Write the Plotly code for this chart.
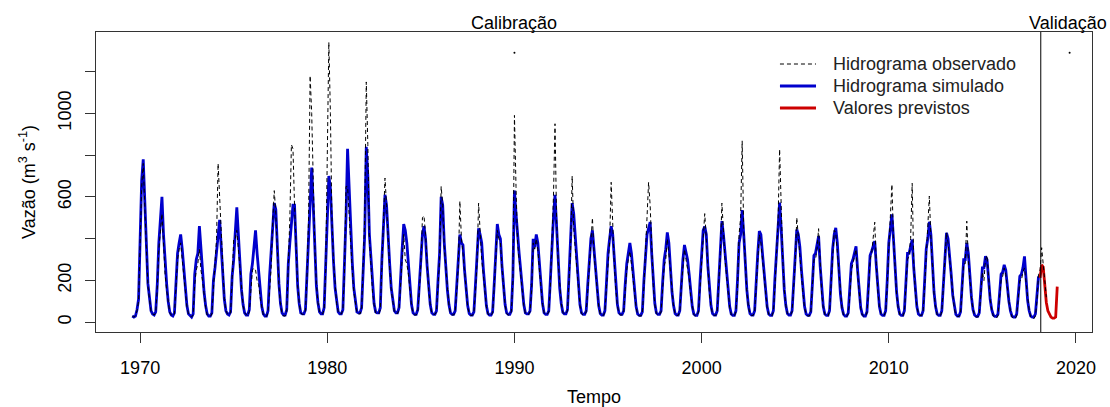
import plotly.graph_objects as go

# ---------------- dados (vazão mensal, m3/s) ----------------
ano_inicio, mes_inicio = 1969, 7

vazao_simulada = [
    30, 25, 30, 60, 110, 350,                                   # 1969 (jul-dez)
    680, 780, 540, 380, 185, 100, 55, 40, 35, 50, 180, 380,     # 1970
    480, 600, 420, 280, 185, 100, 50, 35, 30, 45, 200, 330,     # 1971
    380, 420, 350, 250, 145, 80, 40, 30, 25, 40, 230, 300,      # 1972
    330, 460, 350, 230, 145, 80, 40, 30, 30, 45, 200, 260,      # 1973
    350, 420, 490, 360, 215, 110, 55, 40, 35, 50, 220, 300,     # 1974
    430, 550, 420, 280, 155, 85, 45, 35, 35, 60, 230, 280,      # 1975
    350, 440, 330, 230, 135, 75, 40, 30, 30, 55, 220, 330,      # 1976
    460, 570, 540, 350, 185, 90, 45, 35, 35, 60, 280, 380,      # 1977
    470, 560, 560, 330, 175, 90, 45, 40, 40, 60, 250, 420,      # 1978
    560, 740, 560, 330, 175, 95, 50, 40, 40, 70, 260, 420,      # 1979
    700, 640, 450, 290, 165, 90, 50, 40, 40, 60, 250, 500,      # 1980
    830, 620, 420, 290, 165, 90, 50, 45, 45, 70, 280, 420,      # 1981
    840, 700, 420, 290, 165, 90, 50, 45, 45, 70, 300, 500,      # 1982
    610, 560, 400, 280, 165, 95, 55, 45, 45, 70, 250, 350,      # 1983
    470, 440, 380, 270, 155, 85, 45, 38, 38, 60, 180, 300,      # 1984
    420, 460, 400, 270, 155, 85, 45, 38, 38, 55, 200, 330,      # 1985
    600, 560, 380, 260, 155, 85, 45, 38, 38, 55, 180, 300,      # 1986
    420, 380, 370, 250, 145, 80, 42, 35, 35, 50, 180, 320,      # 1987
    450, 420, 380, 260, 145, 80, 42, 35, 35, 50, 180, 360,      # 1988
    470, 420, 400, 270, 155, 85, 45, 38, 38, 55, 220, 630,      # 1989
    520, 400, 330, 250, 155, 85, 45, 40, 40, 55, 180, 400,      # 1990
    360, 420, 380, 270, 165, 90, 45, 38, 38, 55, 200, 380,      # 1991
    500, 610, 450, 290, 165, 90, 48, 40, 40, 60, 220, 380,      # 1992
    570, 520, 400, 280, 155, 85, 45, 38, 38, 55, 180, 300,      # 1993
    400, 440, 350, 250, 145, 80, 42, 35, 35, 55, 190, 330,      # 1994
    400, 460, 420, 290, 165, 85, 45, 38, 38, 55, 180, 280,      # 1995
    330, 380, 330, 230, 135, 75, 40, 33, 33, 50, 200, 300,      # 1996
    420, 450, 480, 330, 175, 90, 45, 38, 38, 55, 190, 300,      # 1997
    350, 430, 380, 260, 145, 80, 42, 35, 35, 55, 190, 300,      # 1998
    370, 340, 300, 230, 135, 75, 40, 33, 33, 55, 200, 330,      # 1999
    440, 458, 420, 270, 145, 80, 42, 35, 35, 55, 200, 350,      # 2000
    484, 420, 330, 240, 135, 75, 40, 33, 33, 55, 200, 380,      # 2001
    420, 537, 420, 280, 155, 80, 42, 35, 35, 55, 210, 330,      # 2002
    436, 420, 330, 240, 135, 75, 40, 33, 33, 55, 210, 330,      # 2003
    400, 573, 450, 290, 155, 80, 42, 35, 35, 55, 200, 320,      # 2004
    444, 420, 360, 250, 145, 75, 40, 33, 33, 50, 180, 320,      # 2005
    330, 380, 412, 270, 145, 75, 40, 33, 33, 55, 200, 350,      # 2006
    420, 452, 380, 250, 135, 70, 38, 30, 30, 45, 150, 280,      # 2007
    300, 330, 364, 250, 135, 70, 38, 30, 30, 50, 180, 320,      # 2008
    340, 360, 388, 270, 145, 75, 40, 33, 33, 55, 200, 380,      # 2009
    450, 516, 400, 260, 145, 75, 40, 33, 33, 55, 200, 330,      # 2010
    330, 360, 396, 260, 145, 75, 40, 33, 33, 55, 200, 350,      # 2011
    400, 481, 420, 270, 145, 75, 40, 33, 33, 55, 190, 330,      # 2012
    428, 400, 330, 230, 130, 70, 38, 30, 30, 50, 170, 300,      # 2013
    300, 380, 330, 220, 120, 60, 35, 28, 28, 45, 150, 260,      # 2014
    260, 316, 300, 200, 110, 60, 35, 28, 28, 40, 130, 230,      # 2015
    240, 275, 250, 170, 100, 55, 30, 25, 25, 40, 130, 220,      # 2016
    230, 260, 315, 200, 105, 55, 30, 25, 25, 40, 120, 220,      # 2017
]

vazao_observada = [
    30, 25, 30, 55, 100, 330,                                   # 1969 (jul-dez)
    650, 760, 520, 360, 175, 95, 50, 40, 35, 45, 160, 350,      # 1970
    430, 520, 380, 230, 155, 90, 45, 35, 30, 40, 180, 300,      # 1971
    350, 380, 300, 230, 135, 75, 40, 30, 25, 35, 180, 250,      # 1972
    280, 350, 250, 200, 125, 70, 35, 30, 28, 40, 150, 270,      # 1973
    400, 760, 600, 410, 215, 110, 55, 40, 35, 45, 200, 400,     # 1974
    400, 440, 350, 250, 145, 80, 45, 35, 30, 50, 180, 250,      # 1975
    260, 250, 200, 180, 115, 65, 35, 28, 28, 45, 150, 260,      # 1976
    480, 630, 520, 330, 175, 85, 40, 30, 30, 50, 250, 500,      # 1977
    850, 830, 560, 330, 175, 90, 45, 38, 38, 55, 220, 500,      # 1978
    1180, 1000, 640, 360, 185, 95, 50, 40, 40, 60, 250, 700,    # 1979
    1340, 1000, 480, 290, 165, 90, 50, 40, 40, 60, 230, 650,    # 1980
    650, 500, 350, 250, 145, 80, 45, 40, 40, 60, 260, 500,      # 1981
    1150, 850, 400, 250, 145, 85, 45, 40, 40, 60, 250, 500,     # 1982
    690, 560, 380, 260, 155, 90, 50, 42, 42, 60, 200, 300,      # 1983
    420, 300, 280, 230, 145, 80, 42, 35, 35, 50, 150, 280,      # 1984
    500, 510, 420, 270, 155, 85, 45, 38, 38, 50, 180, 300,      # 1985
    650, 560, 360, 250, 145, 80, 42, 35, 35, 50, 150, 270,      # 1986
    580, 400, 330, 230, 135, 75, 40, 33, 33, 45, 150, 280,      # 1987
    570, 400, 300, 230, 135, 75, 40, 33, 33, 45, 170, 330,      # 1988
    440, 400, 380, 260, 145, 80, 42, 35, 35, 50, 200, 990,      # 1989
    650, 380, 300, 230, 145, 80, 42, 38, 38, 50, 150, 380,      # 1990
    350, 400, 350, 250, 155, 85, 45, 38, 38, 50, 170, 400,      # 1991
    600, 950, 500, 290, 165, 90, 48, 40, 40, 55, 200, 350,      # 1992
    700, 450, 350, 250, 145, 80, 42, 35, 35, 50, 150, 270,      # 1993
    380, 500, 330, 230, 135, 75, 40, 33, 33, 50, 170, 300,      # 1994
    380, 670, 420, 280, 155, 80, 42, 35, 35, 50, 150, 250,      # 1995
    300, 340, 280, 210, 125, 70, 38, 30, 30, 45, 170, 350,      # 1996
    500, 670, 560, 330, 175, 85, 42, 35, 35, 50, 170, 270,      # 1997
    300, 400, 330, 230, 135, 75, 40, 33, 33, 50, 170, 280,      # 1998
    350, 300, 260, 210, 125, 70, 38, 30, 30, 50, 170, 300,      # 1999
    380, 520, 400, 250, 135, 75, 40, 33, 33, 50, 180, 330,      # 2000
    570, 400, 300, 220, 125, 70, 38, 30, 30, 50, 160, 420,      # 2001
    500, 868, 430, 270, 145, 75, 40, 33, 33, 50, 170, 300,      # 2002
    420, 380, 300, 230, 130, 70, 38, 30, 30, 50, 170, 330,      # 2003
    480, 828, 500, 300, 155, 80, 42, 35, 35, 50, 170, 280,      # 2004
    501, 400, 330, 230, 135, 70, 38, 30, 30, 45, 160, 300,      # 2005
    300, 350, 448, 250, 135, 70, 38, 30, 30, 50, 170, 330,      # 2006
    440, 430, 330, 230, 125, 65, 35, 28, 28, 40, 120, 250,      # 2007
    280, 320, 350, 230, 125, 65, 35, 28, 28, 45, 150, 300,      # 2008
    330, 400, 479, 280, 145, 75, 40, 33, 33, 50, 170, 350,      # 2009
    500, 660, 400, 250, 135, 70, 38, 30, 30, 50, 170, 300,      # 2010
    320, 400, 665, 280, 145, 75, 40, 33, 33, 50, 170, 330,      # 2011
    420, 604, 400, 250, 135, 70, 38, 30, 30, 50, 160, 300,      # 2012
    430, 380, 300, 210, 120, 65, 35, 28, 28, 45, 150, 280,      # 2013
    280, 484, 300, 200, 115, 60, 32, 25, 25, 35, 120, 240,      # 2014
    200, 300, 320, 200, 110, 60, 30, 22, 20, 30, 100, 200,      # 2015
    220, 260, 230, 160, 100, 55, 25, 20, 18, 30, 100, 200,      # 2016
    200, 240, 260, 180, 105, 55, 25, 20, 18, 30, 100, 230,      # 2017
    250, 357, 290, 200, 120,                                    # 2018 (jan-mai)
]

ano_previsao, mes_previsao = 2018, 1
valores_previstos = [213, 275, 265, 170, 95, 55, 35, 25, 20, 20, 25, 171]

inicio_validacao = 2018.12
pontos_x = [1990.0, 2019.66]
pontos_y = [1290, 1290]

anos_ticks = [1970, 1980, 1990, 2000, 2010, 2020]
vazao_ticks = [0, 200, 400, 600, 800, 1000, 1200]
vazao_rotulos = ["0", "200", "", "600", "", "1000", ""]

legenda_nomes = ["Hidrograma observado", "Hidrograma simulado", "Valores previstos"]


def tempo(n, ano, mes):
    return [ano + (mes + i) / 12 for i in range(n)]


t_obs = tempo(len(vazao_observada), ano_inicio, mes_inicio)
t_sim = tempo(len(vazao_simulada), ano_inicio, mes_inicio)
t_prev = tempo(len(valores_previstos), ano_previsao, mes_previsao)

FONTE = "Liberation Sans, Arial, sans-serif"
AZUL = "#0000CD"
VERMELHO = "#CD0000"

fig = go.Figure()
fig.add_trace(go.Scatter(x=t_sim, y=vazao_simulada, mode="lines", name=legenda_nomes[1],
                         line=dict(color=AZUL, width=2.8), showlegend=False))
fig.add_trace(go.Scatter(x=t_prev, y=valores_previstos, mode="lines", name=legenda_nomes[2],
                         line=dict(color=VERMELHO, width=2.8), showlegend=False))
fig.add_trace(go.Scatter(x=t_obs, y=vazao_observada, mode="lines", name=legenda_nomes[0],
                         line=dict(color="black", width=1, dash="4px,3px"), showlegend=False))
fig.add_trace(go.Scatter(x=pontos_x, y=pontos_y, mode="markers", showlegend=False,
                         marker=dict(color="black", size=2)))

fig.add_shape(type="line", xref="x", yref="paper", x0=inicio_validacao, x1=inicio_validacao,
              y0=0, y1=1, line=dict(color="black", width=1))

# legenda (sem moldura), desenhada no canto superior direito
leg_estilos = [dict(color="black", width=1, dash="4px,3px"),
               dict(color=AZUL, width=2.8),
               dict(color=VERMELHO, width=2.8)]
leg_y = [0.8933, 0.82, 0.7467]
for nome, est, yy in zip(legenda_nomes, leg_estilos, leg_y):
    fig.add_shape(type="line", xref="paper", yref="paper", x0=0.6867, x1=0.7229,
                  y0=yy, y1=yy, line=est)
    fig.add_annotation(x=0.738, y=yy, xref="paper", yref="paper", xanchor="left",
                       yanchor="middle", showarrow=False, text=nome,
                       font=dict(family=FONTE, size=18, color="#222"))

fig.add_annotation(x=1990, y=1, xref="x", yref="paper", yanchor="bottom", showarrow=False,
                   text="Calibração", font=dict(family=FONTE, size=18, color="black"), yshift=-3)
fig.add_annotation(x=2019.55, y=1, xref="x", yref="paper", yanchor="bottom", showarrow=False,
                   text="Validação", font=dict(family=FONTE, size=18, color="black"), yshift=-3)

fig.update_layout(
    width=1110, height=407,
    margin=dict(l=96, r=18, t=32, b=75, autoexpand=False),
    paper_bgcolor="white", plot_bgcolor="white",
    font=dict(family=FONTE, size=18, color="black"),
    showlegend=False,
    xaxis=dict(range=[1967.643, 2020.857], tickvals=anos_ticks, ticks="outside", ticklen=10,
               tickcolor="#333", showline=True, mirror=True, linecolor="#333", linewidth=1,
               showgrid=False, zeroline=False, tickfont=dict(size=18), ticklabelstandoff=9,
               automargin=False,
               title=dict(text="Tempo", standoff=14, font=dict(size=18))),
    yaxis=dict(range=[-46.4, 1389], tickvals=vazao_ticks, ticktext=vazao_rotulos, tickangle=-90,
               ticks="outside", ticklen=10, tickcolor="#333", showline=True, mirror=True,
               linecolor="#333", linewidth=1, showgrid=False, zeroline=False,
               tickfont=dict(size=18), ticklabelstandoff=7, automargin=False,
               title=dict(text="Vazão (m<sup>3</sup> s<sup>-1</sup>)", standoff=14,
                          font=dict(size=18))),
)

fig.write_html("out.html")
